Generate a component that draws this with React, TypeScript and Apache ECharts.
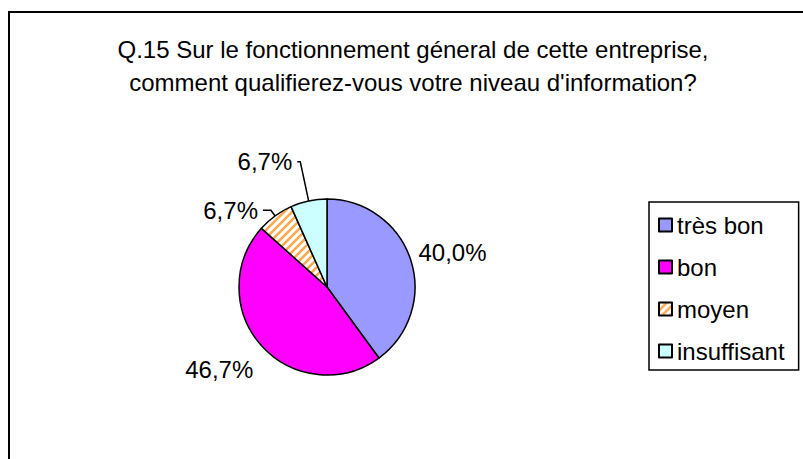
import React, { useEffect, useRef } from "react";
import * as echarts from "echarts";

const titleLines = [
  "Q.15 Sur le fonctionnement géneral de cette entreprise,",
  "comment qualifierez-vous votre niveau d'information?",
];
const categories = ["très bon", "bon", "moyen", "insuffisant"];
const values = [40.0, 46.7, 6.7, 6.7];

function makeHatch(): HTMLCanvasElement {
  const s = 8;
  const c = document.createElement("canvas");
  c.width = s;
  c.height = s;
  const ctx = c.getContext("2d")!;
  ctx.fillStyle = "#FFFFFF";
  ctx.fillRect(0, 0, s, s);
  ctx.strokeStyle = "#FFA94D";
  ctx.lineWidth = 2.6;
  ctx.beginPath();
  ctx.moveTo(-1, s + 1);
  ctx.lineTo(s + 1, -1);
  ctx.moveTo(-1, 1);
  ctx.lineTo(1, -1);
  ctx.moveTo(s - 1, s + 1);
  ctx.lineTo(s + 1, s - 1);
  ctx.stroke();
  return c;
}

export default function App() {
  const ref = useRef<HTMLDivElement>(null);
  useEffect(() => {
    if (!ref.current) return;
    const chart = echarts.init(ref.current, null, { renderer: "svg" });
    const hatch = makeHatch();
    const colors: any[] = [
      "#9999FF",
      "#FF00FF",
      { image: hatch, repeat: "repeat" },
      "#CCFFFF",
    ];
    const lineLens = [
      [3, 0],
      [25, 0],
      [7, 8],
      [40, 3],
    ];
    const showLines = [false, false, true, true];
    const data = categories.map((name, i) => ({
      name,
      value: values[i],
      itemStyle: { color: colors[i] },
      labelLine: {
        show: showLines[i],
        length: lineLens[i][0],
        length2: lineLens[i][1],
      },
    }));
    chart.setOption({
      animation: false,
      backgroundColor: "#FFFFFF",
      title: {
        text: titleLines.join("\n"),
        left: 408,
        top: 28,
        textAlign: "center",
        textStyle: {
          fontFamily: "Liberation Sans",
          fontSize: 24,
          fontWeight: "normal",
          color: "#000000",
          lineHeight: 33,
        },
      },
      graphic: [
        {
          type: "rect",
          z: -10,
          shape: { x: 9, y: 12, width: 900, height: 600 },
          style: { fill: "none", stroke: "#000000", lineWidth: 2 },
        },
      ],
      legend: {
        orient: "vertical",
        left: 649,
        top: 202,
        padding: [11, 14, 7, 9],
        borderColor: "#000000",
        borderWidth: 1.5,
        itemWidth: 13,
        itemHeight: 13,
        itemGap: 18,
        icon: "rect",
        textStyle: {
          fontFamily: "Liberation Sans",
          fontSize: 24,
          color: "#000000",
          lineHeight: 24,
        },
        data: categories,
      },
      series: [
        {
          type: "pie",
          center: [327, 287],
          radius: 88,
          startAngle: 90,
          clockwise: true,
          avoidLabelOverlap: false,
          itemStyle: { borderColor: "#000000", borderWidth: 1.5 },
          label: {
            show: true,
            position: "outside",
            fontFamily: "Liberation Sans",
            fontSize: 24,
            color: "#000000",
            formatter: (p: any) => p.value.toFixed(1).replace(".", ",") + "%",
          },
          labelLine: {
            lineStyle: { color: "#000000", width: 1.5 },
          },
          labelLayout: (p: any) => {
            if (p.dataIndex === 0) return { dy: -6 };
            if (p.dataIndex === 1) return { dx: 15, dy: 7 };
            return {};
          },
          emphasis: { disabled: true },
          data,
        },
      ],
    });
    return () => chart.dispose();
  }, []);
  return (
    <div
      ref={ref}
      style={{ position: "fixed", left: 0, top: 0, width: 803, height: 459 }}
    />
  );
}
